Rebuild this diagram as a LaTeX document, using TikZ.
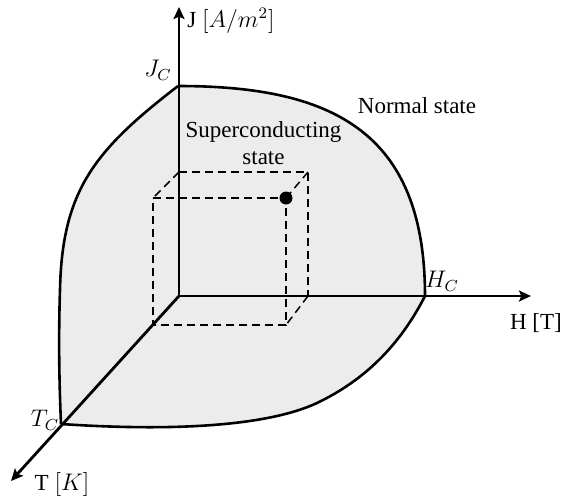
\documentclass[tikz,border=0pt]{standalone}
\usepackage{fontspec}
\setmainfont{Liberation Serif}
\usetikzlibrary{arrows.meta}
\definecolor{regiongray}{RGB}{236,236,236}
\tikzset{
  axisline/.style={line width=1.4pt,-{Stealth[length=6pt,width=5.5pt,inset=1.2pt]}},
  boundary/.style={line width=1.3pt},
  cubeedge/.style={line width=0.75pt,dash pattern=on 4pt off 2.5pt},
  lbl/.style={inner sep=0pt,font=\fontsize{11.5}{13.5}\selectfont},
}
\begin{document}
\begin{tikzpicture}[x=0.5pt,y=-0.5pt]
\useasboundingbox (0,0) rectangle (564,500);
% key points
\coordinate (O) at (179,296);
\coordinate (Jc) at (178,86);
\coordinate (Hc) at (425,296);
\coordinate (Tc) at (61,424);
\coordinate (Jtip) at (179,7);
\coordinate (Htip) at (531,296);
\coordinate (Ttip) at (11,481);
% region
\fill[regiongray] (Jc) .. controls (330,86) and (425,130) .. (Hc)
  .. controls (400,345) and (365,380) .. (317,403)
  .. controls (270,425) and (180,432) .. (Tc)
  .. controls (60,400) and (58,350) .. (60,290)
  .. controls (62,190) and (95,150) .. (Jc) -- cycle;
% cube
\coordinate (B1) at (179,172);
\coordinate (B2) at (308,172);
\coordinate (B3) at (308,296);
\coordinate (F1) at (153,198);
\coordinate (F2) at (286,198);
\coordinate (F3) at (286,325);
\coordinate (F4) at (153,325);
\draw[cubeedge] (B1) -- (B2) -- (B3);
\draw[cubeedge] (F1) -- (F2) -- (F3) -- (F4) -- cycle;
\draw[cubeedge] (B1) -- (F1);
\draw[cubeedge] (B2) -- (F2);
\draw[cubeedge] (B3) -- (F3);
% boundary
\draw[boundary] (Jc) .. controls (330,86) and (425,130) .. (Hc);
\draw[boundary] (Hc) .. controls (400,345) and (365,380) .. (317,403)
  .. controls (270,425) and (180,432) .. (Tc);
\draw[boundary] (Tc) .. controls (60,400) and (58,350) .. (60,290)
  .. controls (62,190) and (95,150) .. (Jc);
% axes
\draw[axisline] (O) -- (Jtip);
\draw[axisline] (O) -- (Htip);
\draw[axisline] (O) -- (Ttip);
% point
\fill (F2) circle[radius=6.5];
% labels
\node[lbl,anchor=west] (jlab) at (187,21) {J $[A/m^2]$};
\node[lbl] (hlab) at (536,323) {H [T]};
\node[lbl] (tlab) at (62,484) {T $[K]$};
\node[lbl] (jclab) at (158,70) {$J_C$};
\node[lbl] (hclab) at (442,281) {$H_C$};
\node[lbl] (tclab) at (45,420) {$T_C$};
\node[lbl,anchor=base] (normal) at (417,113) {Normal state};
\node[lbl,align=center] (sc) at (263.5,143) {Superconducting\\state};
\end{tikzpicture}
\end{document}
